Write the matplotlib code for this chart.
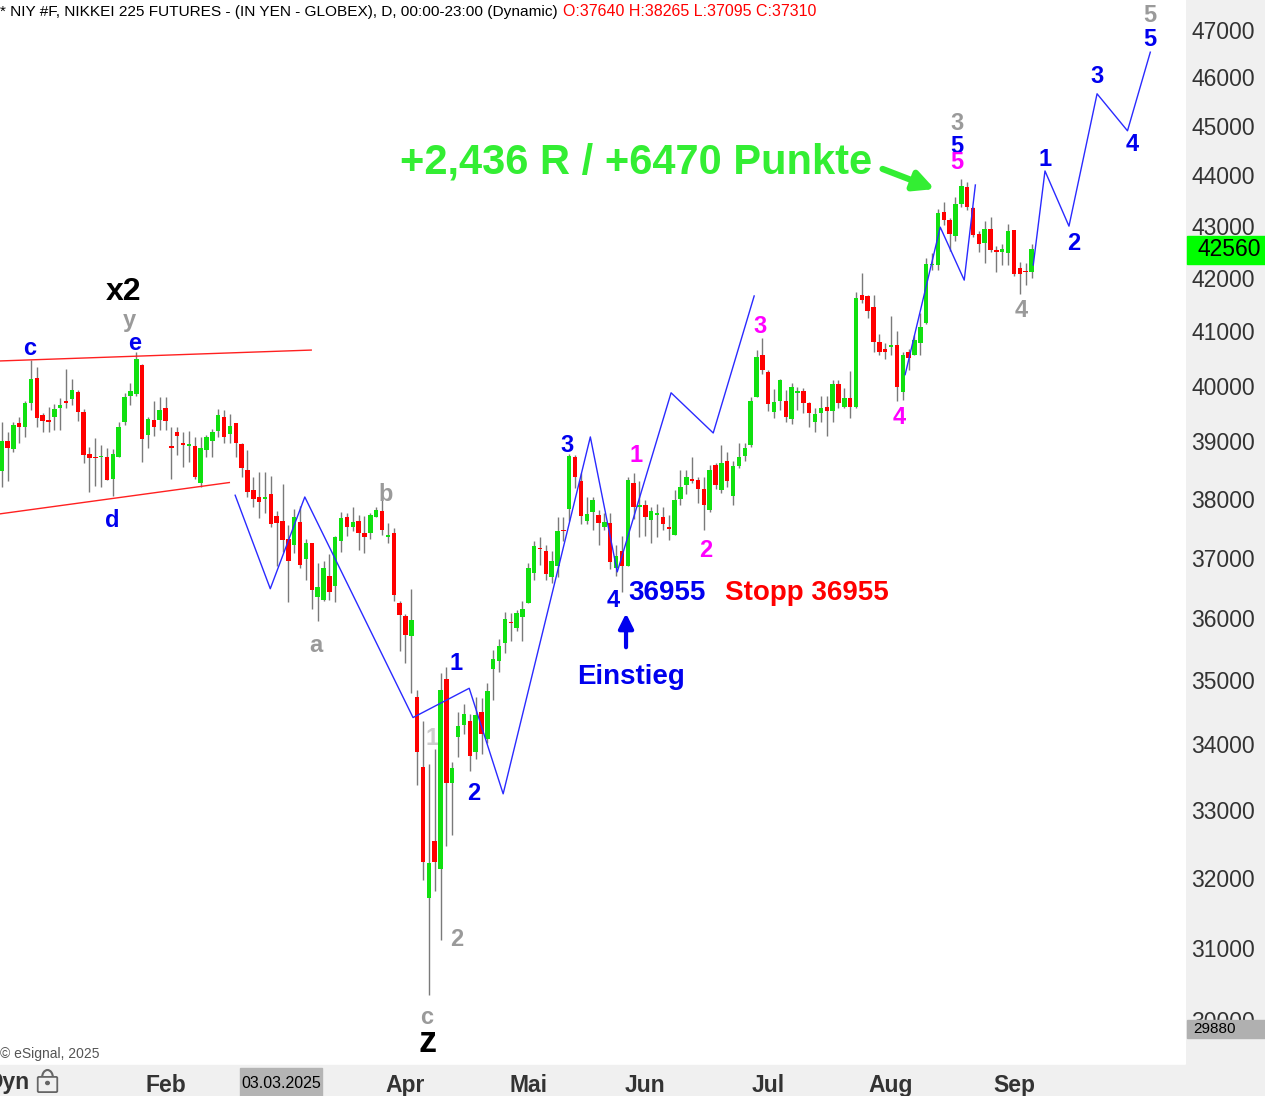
import matplotlib.pyplot as plt
from matplotlib.patches import Rectangle, FancyBboxPatch, Arc, Circle
from matplotlib.ticker import FixedLocator, NullLocator, FuncFormatter

plt.rcParams['font.family'] = ['Liberation Sans', 'DejaVu Sans']

# daily candles (trading day index 0..176), prices in yen
opens = [38480, 39010, 38870, 39330, 39250, 39680, 40130, 39470, 39380, 39430,
         39600, 39720, 39760, 39890, 39530, 38780, 38730, 38720, 38720, 38350,
         38730, 39350, 39820, 39850, 40380, 39120, 39380, 39380, 39600, 38910,
         39170, 38970, 38920, 38920, 38270, 38850, 39010, 39190, 39430, 39130,
         39320, 38950, 38500, 38150, 38030, 37990, 38090, 37710, 37620, 37310,
         37210, 37600, 36980, 37240, 36350, 36300, 36690, 36530, 37270, 37680,
         37520, 37620, 37410, 37420, 37690, 37790, 37350, 37410, 36250, 36030,
         35700, 34740, 33650, 31700, 32540, 32130, 35020, 33410, 34110, 34290,
         34360, 33880, 34500, 34080, 35170, 35300, 35590, 35930, 35840, 36020,
         36250, 36740, 37160, 37110, 36680, 36850, 37470, 37820, 38730, 38310,
         37610, 37780, 37720, 37520, 37580, 36830, 37110, 36860, 38270, 37860,
         37890, 37630, 37720, 37690, 37510, 37380, 37990, 38230, 38340, 38330,
         38170, 37800, 38590, 38150, 38660, 38050, 38570, 38750, 38940, 39800,
         40560, 40240, 39530, 39730, 39720, 39400, 39870, 39900, 39680, 39350,
         39500, 39620, 39550, 40030, 39610, 39780, 39610, 41680, 41660, 41460,
         40790, 40670, 40700, 40740, 39890, 40610, 40560, 40780, 41160, 42240,
         42240, 43270, 43120, 42800, 43430, 43770, 43350, 42850, 42670, 42940,
         42540, 42500, 42480, 42920, 42200, 42140, 42110]
highs = [39350, 39170, 39340, 39430, 39720, 40460, 40340, 39500, 39610, 39670,
         39780, 40300, 40120, 39920, 39570, 38900, 39060, 38940, 38890, 38870,
         39340, 39860, 40040, 40620, 40400, 39430, 39730, 39800, 39800, 39260,
         39260, 39170, 39190, 39080, 39070, 39110, 39220, 39580, 39560, 39490,
         39330, 38980, 38850, 38380, 38470, 38470, 38400, 37790, 38260, 37550,
         37820, 37880, 37310, 37250, 36900, 36950, 37060, 37370, 37770, 37750,
         37850, 37720, 37710, 37760, 37850, 37980, 37590, 37500, 36280, 36060,
         36470, 34850, 34350, 33700, 33930, 35120, 35210, 33730, 34500, 34620,
         34470, 34730, 34710, 34960, 35480, 35660, 36090, 36080, 36130, 36280,
         36900, 37270, 37340, 37210, 37110, 37680, 37680, 38780, 38760, 38440,
         38030, 38030, 37810, 37750, 37750, 37210, 37370, 38380, 38450, 38310,
         37980, 37850, 37910, 37850, 37720, 38150, 38500, 38500, 38720, 38380,
         38380, 38590, 38620, 38940, 38820, 38650, 38970, 38970, 39800, 40650,
         40870, 40290, 39940, 40120, 39920, 40040, 39970, 39950, 39710, 39590,
         39810, 39810, 40100, 40110, 39950, 40270, 41740, 42090, 41680, 41680,
         40950, 40780, 41290, 41000, 40620, 40670, 40920, 41340, 42380, 42480,
         43330, 43470, 43150, 43580, 43920, 43860, 43370, 42910, 43100, 43170,
         42620, 42660, 43040, 42930, 42310, 42280, 42660]
lows = [38210, 38310, 38820, 38980, 39080, 39560, 39250, 39160, 39160, 39200,
        39200, 39590, 39650, 39370, 38620, 38120, 38220, 38210, 38330, 38050,
        38730, 39290, 39650, 39820, 38630, 38880, 39100, 39200, 39200, 38340,
        38760, 38550, 38630, 38340, 38210, 38730, 38730, 39080, 38970, 38970,
        38730, 38380, 38030, 37850, 37670, 37750, 37520, 36850, 37100, 36260,
        37080, 36820, 36630, 36150, 35950, 36270, 36300, 36260, 37100, 37370,
        37440, 37130, 37080, 37310, 37680, 37380, 37240, 36280, 35460, 35270,
        34790, 33380, 31970, 30340, 31810, 31110, 32460, 32630, 33800, 34160,
        33580, 33770, 33840, 34010, 34690, 35130, 35440, 35620, 35790, 35620,
        36240, 36630, 36880, 36630, 36570, 36680, 37270, 37610, 38180, 37570,
        37560, 37470, 37210, 37470, 36800, 36690, 36430, 36850, 37650, 37350,
        37370, 37250, 37350, 37470, 37290, 37380, 37890, 38080, 38270, 37920,
        37460, 37770, 38170, 38100, 38210, 37900, 38530, 38660, 38910, 39790,
        40210, 39550, 39410, 39560, 39340, 39310, 39560, 39500, 39250, 39170,
        39350, 39100, 39340, 39600, 39600, 39420, 39600, 41520, 41240, 40620,
        40560, 40480, 40560, 39720, 39740, 40290, 40560, 40560, 41130, 42150,
        42150, 43020, 42510, 42720, 43370, 43320, 42780, 42500, 42290, 42490,
        42110, 42250, 42240, 42040, 41690, 41870, 42010]
closes = [39010, 38880, 39290, 39250, 39690, 40120, 39420, 39370, 39350, 39580,
          39650, 39690, 39920, 39530, 38760, 38700, 38710, 38750, 38330, 38780,
          39260, 39800, 39910, 40480, 39050, 39400, 39260, 39560, 39370, 38890,
          39100, 38940, 38950, 38370, 38890, 39070, 39160, 39470, 39080, 39280,
          38980, 38540, 38120, 37990, 37950, 38030, 37570, 37580, 37300, 36940,
          37680, 36880, 37240, 36460, 36510, 36820, 36430, 37340, 37670, 37520,
          37600, 37420, 37340, 37720, 37810, 37460, 37380, 36370, 36040, 35720,
          35970, 33880, 32230, 32220, 32230, 34840, 33400, 33630, 34280, 34470,
          33820, 34450, 34150, 34830, 35340, 35550, 35990, 35910, 36080, 36150,
          36830, 37200, 37140, 36730, 36940, 37450, 37450, 38750, 38370, 37710,
          37740, 37980, 37590, 37600, 36920, 37030, 36850, 38330, 37860, 37890,
          37690, 37790, 37750, 37570, 37480, 37980, 38210, 38370, 38310, 38170,
          37890, 38500, 38230, 38620, 38300, 38570, 38730, 38890, 39720, 40520,
          40290, 39670, 39700, 40100, 39440, 39970, 39900, 39690, 39500, 39490,
          39600, 39550, 40030, 39690, 39780, 39610, 41620, 41590, 41370, 40790,
          40620, 40620, 40740, 39980, 40560, 40510, 40840, 41070, 42260, 42260,
          43250, 43120, 42840, 43440, 43790, 43380, 42830, 42650, 42940, 42540,
          42500, 42560, 42910, 42070, 42070, 42120, 42560]

month_pos = [28, 48, 69, 90, 110, 131, 152, 173]
month_lbl = ['Feb', '', 'Apr', 'Mai', 'Jun', 'Jul', 'Aug', 'Sep']
price_ticks = list(range(30000, 47001, 1000))

# triangle borders (red)
tri_up_x, tri_up_y = [-0.3, 52.9], [40450, 40650]
tri_lo_x, tri_lo_y = [-0.3, 38.9], [37740, 38280]

# wave count / projection paths (blue)
path1_x = [39.9, 45.9, 51.8, 70.3, 79.9, 85.7, 100.6, 105.2, 114.4, 121.6, 128.6]
path1_y = [38060, 36480, 38030, 34410, 34870, 33240, 39080, 36760, 39870, 39150, 41660]
path2_x = [154.4, 160.4, 164.5, 166.4]
path2_y = [40200, 42980, 41960, 43810]
path3_x = [176.3, 178.3, 182.4, 187.2, 192.4, 196.3]
path3_y = [42250, 44090, 43000, 45660, 44900, 46530]

BLUE = '#0000ee'
GRAY = '#9a9a9a'
MAG = '#ff00ff'
labels = [
    ('x2', 20.9, 41740, 'black', 23), ('y', 21.8, 41190, GRAY, 17),
    ('c', 4.8, 40670, BLUE, 17), ('e', 22.8, 40780, BLUE, 17),
    ('d', 18.9, 37620, BLUE, 17), ('b', 65.7, 38080, GRAY, 17),
    ('a', 53.7, 35560, GRAY, 17), ('1', 77.7, 35260, BLUE, 17),
    ('2', 80.6, 33250, BLUE, 17), ('2', 77.7, 31120, GRAY, 17),
    ('c', 72.7, 30040, GRAY, 17), ('z', 72.7, 29700, 'black', 26),
    ('3', 96.6, 38920, BLUE, 17), ('1', 108.4, 38750, MAG, 17),
    ('4', 104.5, 36280, BLUE, 17), ('2', 120.4, 37110, MAG, 17),
    ('3', 129.6, 41080, MAG, 17), ('4', 153.4, 39420, MAG, 17),
    ('3', 163.3, 45040, GRAY, 17), ('5', 163.3, 44590, BLUE, 17),
    ('5', 163.3, 44250, MAG, 17), ('4', 174.2, 41380, GRAY, 17),
    ('1', 178.3, 44310, BLUE, 17), ('2', 183.3, 42660, BLUE, 17),
    ('3', 187.2, 46020, BLUE, 17), ('4', 193.2, 44630, BLUE, 17),
    ('5', 196.3, 46790, BLUE, 17), ('5', 196.3, 47320, GRAY, 17),
]

W, H = 1265, 1096
fig = plt.figure(figsize=(W / 100, H / 100), dpi=100)
fig.add_artist(Rectangle((1186 / W, 0), 1 - 1186 / W, 1, transform=fig.transFigure,
                         color='#f0f0f0', zorder=-2))
fig.add_artist(Rectangle((0, 0), 1, 31 / H, transform=fig.transFigure,
                         color='#f0f0f0', zorder=-2))
fig.add_artist(Rectangle((240 / W, 0), 82 / W, 28 / H, transform=fig.transFigure,
                         color='#b4b4b4', zorder=-1))
fig.text(281 / W, 1 - 1083 / H, '03.03.2025', fontsize=11.5, color='black',
         ha='center', va='center')

ax = fig.add_axes([0, 32 / H, 1186 / W, 1064 / H])
ax.set_yscale('log')
ax.set_ylim(29407, 47644)
ax.set_xlim(-0.29, 202.4)
for s in ax.spines.values():
    s.set_visible(False)

ax.yaxis.tick_right()
ax.yaxis.set_major_locator(FixedLocator(price_ticks))
ax.yaxis.set_minor_locator(NullLocator())
ax.yaxis.set_major_formatter(FuncFormatter(lambda v, p: f'{v:.0f}'))
ax.tick_params(axis='y', length=0, pad=3.6, labelsize=16.5, labelcolor='#333333')
ax.set_xticks(month_pos, month_lbl)
ax.tick_params(axis='x', length=0, pad=7, labelsize=16.5, labelcolor='#333333')
for t in ax.get_xticklabels():
    t.set_fontweight('bold')

# candles
xs = list(range(len(opens)))
ax.vlines(xs, lows, highs, color='#7a7a7a', lw=1, zorder=2)
bottoms = [min(o, c) for o, c in zip(opens, closes)]
heights = [max(abs(c - o), 22) for o, c in zip(opens, closes)]
cols = ['#10e010' if c >= o else '#ff0000' for o, c in zip(opens, closes)]
ax.bar(xs, heights, bottom=bottoms, width=0.76, color=cols, lw=0, zorder=3)

ax.plot(tri_up_x, tri_up_y, color='#ff2020', lw=1, zorder=4)
ax.plot(tri_lo_x, tri_lo_y, color='#ff2020', lw=1, zorder=4)
for px, py in [(path1_x, path1_y), (path2_x, path2_y), (path3_x, path3_y)]:
    ax.plot(px, py, color='#2a2aff', lw=1, zorder=4)

ax.text(73.6, 34090, '1', color='#cccccc', fontsize=17, fontweight='bold',
        ha='center', va='center', zorder=1)
for txt, lx, ly, c, fs in labels:
    ax.text(lx, ly, txt, color=c, fontsize=fs, fontweight='bold',
            ha='center', va='center', zorder=6)

ax.text(107.1, 36410, '36955', color=BLUE, fontsize=20, fontweight='bold',
        ha='left', va='center', zorder=6)
ax.text(123.6, 36410, 'Stopp 36955', color='#ff0000', fontsize=20, fontweight='bold',
        ha='left', va='center', zorder=6)
ax.text(107.6, 35050, 'Einstieg', color=BLUE, fontsize=20, fontweight='bold',
        ha='center', va='center', zorder=6)
ax.annotate('', xy=(106.7, 36120), xytext=(106.7, 35480),
            arrowprops=dict(arrowstyle='-|>', color=BLUE, lw=3, mutation_scale=22),
            zorder=6)
ax.text(68.1, 44260, '+2,436 R / +6470 Punkte', color='#33ee33', fontsize=30,
        fontweight='bold', ha='left', va='center', zorder=6)
ax.annotate('', xy=(159.9, 43710), xytext=(150.1, 44150),
            arrowprops=dict(arrowstyle='-|>', color='#33ee33', lw=4.5, mutation_scale=30),
            zorder=6)

# header and footer texts
fig.text(0, 1 - 12 / H, '* NIY #F, NIKKEI 225 FUTURES - (IN YEN - GLOBEX), D, 00:00-23:00 (Dynamic)',
         fontsize=11.05, color='black', ha='left', va='center')
fig.text(563 / W, 1 - 12 / H, 'O:37640 H:38265 L:37095 C:37310',
         fontsize=11.5, color='#ff0000', ha='left', va='center')
fig.text(0, 1 - 1054 / H, '\u00a9 eSignal, 2025', fontsize=10, color='#555555',
         ha='left', va='center')
fig.text(-13 / W, 1 - 1082 / H, 'Dyn', fontsize=16.5, fontweight='bold',
         color='#333333', ha='left', va='center')

# lock icon
fig.add_artist(Arc((47.5 / W, 1 - 1078 / H), 11 / W, 16 / H, theta1=0, theta2=180,
                   transform=fig.transFigure, color='#666666', lw=1.5))
fig.add_artist(FancyBboxPatch((39 / W, 1 - 1091 / H), 17 / W, 13 / H,
                              boxstyle='round,pad=0.001', transform=fig.transFigure,
                              facecolor='#f0f0f0', edgecolor='#666666', lw=1.3))
fig.add_artist(Circle((47.5 / W, 1 - 1083 / H), 1.8 / W, transform=fig.transFigure,
                      color='#666666'))

# price boxes on axis
fig.add_artist(Rectangle((1187 / W, (H - 264) / H), 78 / W, 28 / H,
                         transform=fig.transFigure, color='#00ff00', zorder=5))
fig.text(1229 / W, 1 - 250 / H, '42560', fontsize=16.5, color='black',
         ha='center', va='center', zorder=6)
fig.add_artist(Rectangle((1187 / W, (H - 1038) / H), 78 / W, 18 / H,
                         transform=fig.transFigure, color='#b0b0b0', zorder=5))
fig.text(1193 / W, 1 - 1029 / H, '29880', fontsize=11, color='black',
         ha='left', va='center', zorder=6)

fig.savefig('out.png', dpi=100)
